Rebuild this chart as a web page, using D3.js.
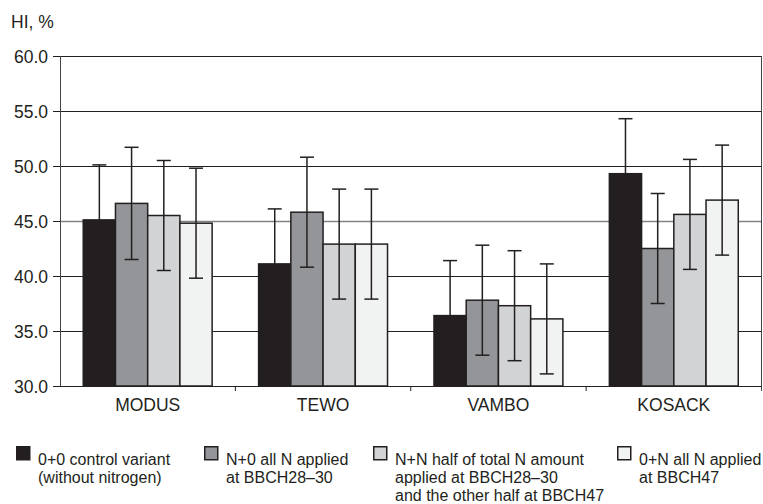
<!DOCTYPE html>
<html>
<head>
<meta charset="utf-8">
<script src="https://cdn.jsdelivr.net/npm/d3@7"></script>
<style>
  body { margin: 0; background: #fff; }
  svg text { font-family: "Liberation Sans", Arial, sans-serif; fill: #231f20; }
</style>
</head>
<body>
<svg id="chart" width="763" height="504"></svg>
<script>
// data
var cultivars = ['MODUS', 'TEWO', 'VAMBO', 'KOSACK'];
var variants = ['0+0', 'N+0', 'N+N', '0+N'];
var hiMODUS  = [45.1, 46.6, 45.5, 44.8];
var hiTEWO   = [41.1, 45.8, 42.9, 42.9];
var hiVAMBO  = [36.4, 37.8, 37.3, 36.1];
var hiKOSACK = [49.3, 42.5, 45.6, 46.9];
var errMODUS  = [5.0, 5.1, 5.0, 5.0];
var errTEWO   = [5.0, 5.0, 5.0, 5.0];
var errVAMBO  = [5.0, 5.0, 5.0, 5.0];
var errKOSACK = [5.0, 5.0, 5.0, 5.0];
var yTicks = [30, 35, 40, 45, 50, 55, 60];
var legendLabels = [
  ['0+0 control variant', '(without nitrogen)'],
  ['N+0 all N applied', 'at BBCH28\u201330'],
  ['N+N half of total N amount', 'applied at BBCH28\u201330', 'and the other half at BBCH47'],
  ['0+N all N applied', 'at BBCH47']
];

var hiValues = [hiMODUS, hiTEWO, hiVAMBO, hiKOSACK];
var errValues = [errMODUS, errTEWO, errVAMBO, errKOSACK];
var barColors = ['#231f20', '#939598', '#d1d3d4', '#f1f2f2'];

var svg = d3.select('#chart');
var padding = {t: 56, r: 1.5, b: 118, l: 60};
var width = 763 - padding.l - padding.r;
var height = 504 - padding.t - padding.b;

var g = svg.append('g')
  .attr('transform', 'translate(' + padding.l + ',' + padding.t + ')');

var yScale = d3.scaleLinear().domain([30, 60]).range([height, 0]);
var x0 = d3.scaleBand().domain(cultivars).range([0, width]).padding(0);
var groupW = x0.bandwidth() * 0.735;
var x1 = d3.scaleBand().domain(variants)
  .range([(x0.bandwidth() - groupW) / 2, (x0.bandwidth() + groupW) / 2]);

// gridlines
g.selectAll('.grid')
  .data(yTicks.filter(function(d) { return d > 30; }))
  .join('line')
  .attr('class', 'grid')
  .attr('x1', 0).attr('x2', width)
  .attr('y1', function(d) { return Math.round(yScale(d)) + 0.5; })
  .attr('y2', function(d) { return Math.round(yScale(d)) + 0.5; })
  .attr('stroke', function(d) { return d === 45 ? '#808285' : '#231f20'; })
  .attr('stroke-width', function(d) { return d === 45 ? 1.6 : 1; });

// right border
g.append('line')
  .attr('x1', width).attr('x2', width)
  .attr('y1', 0).attr('y2', height + 5)
  .attr('stroke', '#444').attr('stroke-width', 1);

// bars
var rows = [];
cultivars.forEach(function(c, i) {
  variants.forEach(function(v, j) {
    rows.push({cult: c, variant: v, idx: j, value: hiValues[i][j], err: errValues[i][j]});
  });
});

var groups = g.selectAll('.bar')
  .data(rows)
  .join('rect')
  .attr('class', 'bar')
  .attr('x', function(d) { return x0(d.cult) + x1(d.variant); })
  .attr('y', function(d) { return yScale(d.value); })
  .attr('width', x1.bandwidth())
  .attr('height', function(d) { return height - yScale(d.value); })
  .attr('fill', function(d) { return barColors[d.idx]; })
  .attr('stroke', '#231f20')
  .attr('stroke-width', 1.5);

// error bars
var errG = g.selectAll('.err')
  .data(rows)
  .join('g')
  .attr('class', 'err')
  .attr('transform', function(d) {
    return 'translate(' + (x0(d.cult) + x1(d.variant) + x1.bandwidth() / 2) + ',0)';
  });
errG.append('line')
  .attr('y1', function(d) { return yScale(d.value + d.err); })
  .attr('y2', function(d) { return yScale(d.value - d.err); })
  .attr('stroke', '#231f20').attr('stroke-width', 1.5);
errG.selectAll('.cap')
  .data(function(d) { return [d.value + d.err, d.value - d.err]; })
  .join('line')
  .attr('class', 'cap')
  .attr('x1', -7).attr('x2', 7)
  .attr('y1', function(d) { return yScale(d); })
  .attr('y2', function(d) { return yScale(d); })
  .attr('stroke', '#231f20').attr('stroke-width', 1.5);

// y axis
var yAxis = g.append('g')
  .attr('class', 'y axis')
  .call(d3.axisLeft(yScale).tickValues(yTicks).tickFormat(d3.format('.1f')).tickSize(7).tickPadding(5));
yAxis.select('.domain').attr('stroke', '#444').attr('d', 'M0.5,0V' + height);
yAxis.selectAll('.tick line').attr('stroke', '#231f20');
yAxis.selectAll('.tick text').style('font-size', '17.5px').attr('dy', '0.36em');

// x axis
var xAxis = g.append('g')
  .attr('class', 'x axis')
  .attr('transform', 'translate(0,' + height + ')')
  .call(d3.axisBottom(x0).tickSize(0).tickPadding(13));
xAxis.select('.domain').attr('stroke', '#231f20').attr('d', 'M0,0.5H' + width);
xAxis.selectAll('.tick text').style('font-size', '17.5px');
g.selectAll('.xtick')
  .data(cultivars.slice(1))
  .join('line')
  .attr('class', 'xtick')
  .attr('x1', function(d) { return x0(d); })
  .attr('x2', function(d) { return x0(d); })
  .attr('y1', height).attr('y2', height + 5)
  .attr('stroke', '#231f20');

svg.append('text')
  .attr('x', 11).attr('y', 28)
  .style('font-size', '17.5px')
  .text('HI, %');

// legend
var legendX = [16, 204, 373, 617];
var legend = svg.selectAll('.legend')
  .data(legendLabels)
  .join('g')
  .attr('class', 'legend')
  .attr('transform', function(d, i) { return 'translate(' + legendX[i] + ',446)'; });
legend.append('rect')
  .attr('x', 0.75).attr('y', 0.75)
  .attr('width', 13).attr('height', 13)
  .attr('fill', function(d, i) { return barColors[i]; })
  .attr('stroke', '#231f20').attr('stroke-width', 1.5);
legend.append('text')
  .attr('x', 22).attr('y', 19)
  .style('font-size', '16px')
  .selectAll('tspan')
  .data(function(d) { return d; })
  .join('tspan')
  .attr('x', 22)
  .attr('dy', function(d, i) { return i === 0 ? 0 : 18; })
  .text(function(d) { return d; });
</script>
</body>
</html>
